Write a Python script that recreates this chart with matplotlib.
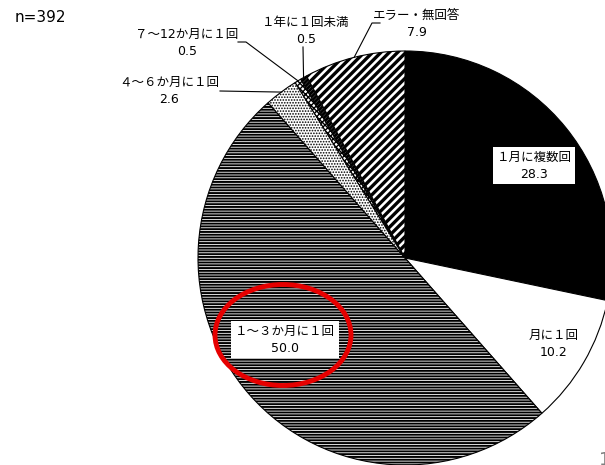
import numpy as np
import matplotlib
matplotlib.use("Agg")
import matplotlib.pyplot as plt
from matplotlib.patches import Ellipse

# DejaVu for latin digits, CJK font for the Japanese / full-width chars
plt.rcParams['font.family'] = ['DejaVu Sans', 'Noto Sans CJK JP']

# data (clockwise from 12 o'clock)
labels = ["１月に複数回", "月に１回", "１～３か月に１回", "４～６か月に１回",
          "７～12か月に１回", "１年に１回未満", "エラー・無回答"]
values = [28.3, 10.2, 50.0, 2.6, 0.5, 0.5, 7.9]
n_text = "n=392"

colors = ["black", "white", "white", "white", "white", "white", "white"]
hatches = [None, None, "------", "......", "xxxxxx", "////////", "////"]
hatch_lw = [1.0, 1.0, 1.4, 0.8, 1.0, 2.0, 2.4]

W, H = 605, 465
fig = plt.figure(figsize=(W / 100, H / 100), dpi=100)
ax = fig.add_axes([0, 0, 1, 1])

cx, cy, R = 405, H - 258, 207
wedges, _ = ax.pie(values, colors=colors, startangle=90, counterclock=False,
                   radius=R, center=(cx, cy),
                   wedgeprops=dict(edgecolor="black", linewidth=0.8))
for w, h, lw in zip(wedges, hatches, hatch_lw):
    if h:
        w.set_hatch(h)
        try:
            w.set_hatch_linewidth(lw)
        except AttributeError:
            pass

ax.set_xlim(0, W)
ax.set_ylim(0, H)
ax.set_aspect("equal")
ax.axis("off")


def edge_point(w):
    a = np.deg2rad((w.theta1 + w.theta2) / 2)
    return cx + R * np.cos(a), cy + R * np.sin(a)


def px(x, y):
    return x, H - y


fs = 9
ls = 1.35
# labels inside the pie
ax.text(*px(534, 166), f"{labels[0]}\n{values[0]}", ha="center", va="center",
        fontsize=fs, linespacing=ls,
        bbox=dict(boxstyle="square,pad=0.3", fc="white", ec="none"))
ax.text(*px(554, 344), f"{labels[1]}\n{values[1]}", ha="center", va="center",
        fontsize=fs, linespacing=ls)
ax.text(*px(285, 340), f"{labels[2]}\n{values[2]:.1f}", ha="center", va="center",
        fontsize=fs, linespacing=ls,
        bbox=dict(boxstyle="square,pad=0.3", fc="white", ec="none"))

# outside labels with leader lines
outside = [
    (3, (169, 91), [(220, 91)]),
    (4, (187, 43), [(238, 42), (246, 42)]),
    (5, (306, 31), [(303, 47)]),
    (6, (417, 24), [(380, 23), (372, 23)]),
]
for i, (tx, ty), pts in outside:
    ax.text(*px(tx, ty), f"{labels[i]}\n{values[i]}", ha="center", va="center",
            fontsize=fs, linespacing=ls)
    ex, ey = edge_point(wedges[i])
    xs = [p[0] for p in pts] + [ex]
    ys = [H - p[1] for p in pts] + [ey]
    ax.plot(xs, ys, color="black", lw=0.8)

# highlight
ax.add_patch(Ellipse(px(283, 335), 136, 101, fill=False, edgecolor="#e60000", lw=3.5))

ax.text(*px(15, 18), n_text, ha="left", va="center", fontsize=11)
# page number, cut off at the edge as in the source
ax.text(*px(599, 460), "1", ha="left", va="center", fontsize=13, color="gray")

fig.savefig("out.png", dpi=100)
